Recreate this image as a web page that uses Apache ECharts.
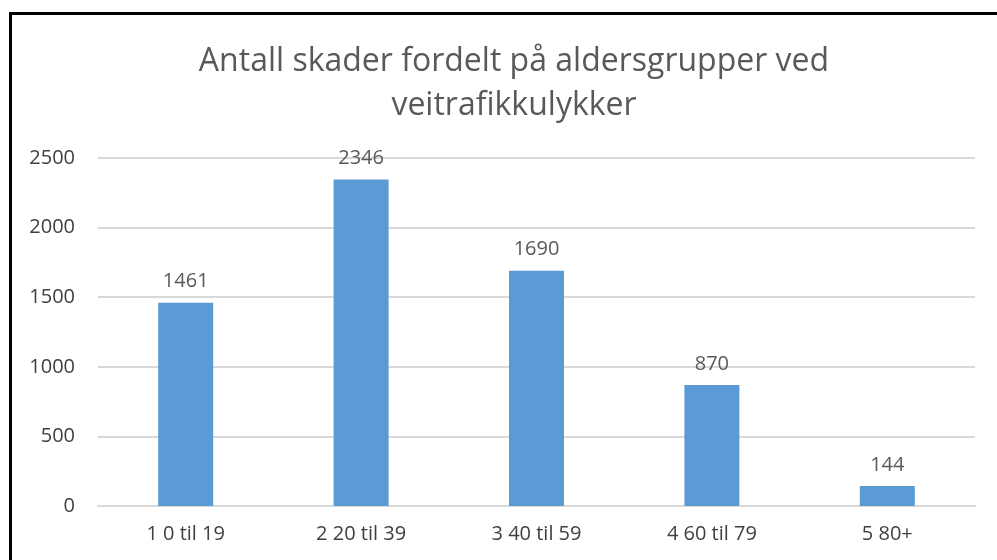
<!DOCTYPE html>
<html lang="no">
<head>
    <meta charset="UTF-8">
    <title>Antall skader fordelt på aldersgrupper ved veitrafikkulykker</title>
    <script src="https://cdn.jsdelivr.net/npm/echarts@6/dist/echarts.min.js"></script>
    <style>
        body {
            margin: 0;
            padding: 0;
            background-color: #ffffff;
            overflow: hidden;
        }

        #frame {
            position: absolute;
            left: 9px;
            top: 12px;
            width: 1100px;
            height: 700px;
            border: 3px solid #000;
        }

        #chart {
            position: absolute;
            left: 0;
            top: 0;
            width: 997px;
            height: 560px;
        }
    </style>
</head>
<body>
    <div id="frame"></div>
    <div id="chart"></div>

    <script>
        // aldersgrupper og antall skader
        const categories = ['1 0 til 19', '2 20 til 39', '3 40 til 59', '4 60 til 79', '5 80+'];
        const values = [1461, 2346, 1690, 870, 144];

        const chart = echarts.init(document.getElementById('chart'));

        const options = {
            animation: false,
            title: {
                text: 'Antall skader fordelt på aldersgrupper ved\nveitrafikkulykker',
                left: 509,
                textAlign: 'center',
                top: 35,
                textStyle: {
                    color: '#595959',
                    fontSize: 32,
                    fontWeight: 'normal',
                    fontFamily: 'Open Sans',
                    lineHeight: 44
                }
            },
            grid: {
                left: 98,
                right: 22,
                top: 158,
                bottom: 54
            },
            xAxis: {
                type: 'category',
                data: categories,
                axisLine: { lineStyle: { color: '#d9d9d9', width: 2 } },
                axisTick: { show: false },
                axisLabel: {
                    color: '#404040',
                    fontSize: 20,
                    fontFamily: 'Open Sans',
                    margin: 18
                }
            },
            yAxis: {
                type: 'value',
                min: 0,
                max: 2500,
                interval: 500,
                axisLine: { show: false },
                axisTick: { show: false },
                splitLine: { lineStyle: { color: '#d9d9d9', width: 2 } },
                axisLabel: {
                    color: '#404040',
                    fontSize: 20,
                    fontFamily: 'Open Sans',
                    margin: 23,
                    formatter: v => String(v)
                }
            },
            series: [
                {
                    type: 'bar',
                    data: values,
                    barWidth: 55,
                    itemStyle: { color: '#5b9bd5' },
                    label: {
                        show: true,
                        position: 'top',
                        distance: 11,
                        color: '#595959',
                        fontSize: 20,
                        fontFamily: 'Open Sans'
                    }
                }
            ]
        };

        chart.setOption(options);
    </script>
</body>
</html>
